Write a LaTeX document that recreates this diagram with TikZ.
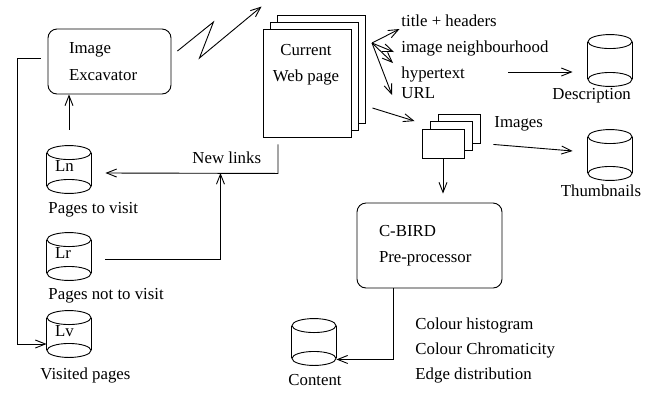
\documentclass[tikz,border=0pt]{standalone}
\usepackage{fontspec}
\setmainfont{Liberation Serif}
\usetikzlibrary{arrows.meta,calc}

% storage drum: name, centre, height, label
\newcommand{\drum}[4]{%
  \node[drumnode, minimum height=#3] (#1) at (#2) {};
  \draw ([yshift=-7pt]#1.north west) -- ([yshift=7pt]#1.south west)
        ([yshift=-7pt]#1.north east) -- ([yshift=7pt]#1.south east);
  \draw ([yshift=-7pt]#1.north) ellipse [x radius=22pt, y radius=7pt];
  \draw ([yshift=7pt]#1.south) ellipse [x radius=22pt, y radius=7pt];
  \node[txt] (#1-lbl) at ([xshift=8pt]#1.west) {#4};%
}

\begin{document}
\begin{tikzpicture}[x=1pt, y=-1pt, line width=0.9pt,
  font=\fontsize{16.8}{26}\selectfont,
  txt/.style={inner sep=0pt, anchor=west, text height=0.68em, text depth=0.2em},
  ctxt/.style={inner sep=0pt, text height=0.68em, text depth=0.2em},
  proc/.style={draw, rounded corners=9pt, inner sep=0pt, align=left},
  sheet/.style={draw, fill=white, minimum width=88pt, minimum height=108pt, inner sep=0pt},
  thumbsheet/.style={draw, fill=white, minimum width=42pt, minimum height=29pt, inner sep=0pt},
  drumnode/.style={minimum width=44pt, inner sep=0pt},
  arr/.style={-{Straight Barb[length=10pt,width=8pt]}}]

\useasboundingbox (0,0) rectangle (650,392);

% crawler
\node[proc, minimum width=123pt, minimum height=65pt, text width=81pt] (exc) at (109.5,61.5) {Image\\[1pt]Excavator};

% fetched page (stack of sheets)
\node[sheet] (web3) at (321,69) {};
\node[sheet] (web2) at (314,76) {};
\node[sheet] (web)  at (307,83) {};
\node[align=center, inner sep=0pt] (webtext) at (306,65) {Current\\Web page};

% extracted images (stack)
\node[thumbsheet] (img3) at (459,128.5) {};
\node[thumbsheet] (img2) at (451,136) {};
\node[thumbsheet] (img)  at (443,143.5) {};

% pre-processor
\node[proc, minimum width=145pt, minimum height=85pt, text width=101pt] (cbird) at (429.5,245.5) {C-BIRD\\Pre-processor};

% stores
\drum{ln}{69,169.5}{47pt}{Ln}
\drum{lr}{69,256.5}{47pt}{Lr}
\drum{lv}{69,334}{46pt}{Lv}
\drum{desc}{610,60.5}{51pt}{}
\drum{thumb}{610,155}{50pt}{}
\drum{content}{314,342}{46pt}{}

% labels
\node[txt] (ptv)  at (48,211) {Pages to visit};
\node[txt] (pntv) at (48,297) {Pages not to visit};
\node[txt] (vp)   at (40,377) {Visited pages};
\node[txt] (newlinks) at (192,161) {New links};
\node[txt] (title) at (401,24) {title + headers};
\node[txt] (hood)  at (401,50) {image neighbourhood};
\node[txt] (hyper) at (401,76) {hypertext};
\node[txt] (url)   at (401,96) {URL};
\node[txt] (desclbl) at (552,97) {Description};
\node[txt] (imglbl)  at (494,125) {Images};
\node[ctxt] (thumblbl) at (601,194) {Thumbnails};
\node[ctxt] (contentlbl) at (315,383) {Content};
\node[txt] (feat1) at (415,327) {Colour histogram};
\node[txt] (feat2) at (415,352) {Colour Chromaticity};
\node[txt] (feat3) at (415,377) {Edge distribution};

% connectors
\draw[arr] ([yshift=16pt]ln.north) -- (ln.north |- exc.south);
\draw[arr] ([shift={(-7pt,3.5pt)}]exc.west) -- ++(-23,0) |- ([yshift=-10pt]lv.west);
\draw[arr] ([shift={(6pt,10.5pt)}]exc.east) -- ++(36,-29) -- ++(-14,36)
  -- ([shift={(-15pt,8pt)}]web3.north west);
\draw[arr] ([shift={(-29pt,-7pt)}]web.south) -- ++(0,29)
  -- ([shift={(14pt,-3.5pt)}]ln.east);
\draw[arr] ([shift={(14pt,-2.5pt)}]lr.east) -- ++(115,0) -- ++(0,-86);

\coordinate (fan) at (372,43);
\draw[arr] (fan) -- ([shift={(-1.5pt,-5pt)}]title.west);
\draw[arr] (fan) -- ([shift={(-7pt,-2pt)}]hood.west);
\draw[arr] (fan) -- ([shift={(-8pt,13pt)}]hyper.west);
\draw[arr] (fan) -- ([shift={(-9pt,1pt)}]url.west);

\coordinate (descfrom) at (508,72);
\draw[arr, shorten >=15pt] (descfrom) -- (descfrom -| desc.west);

\draw[arr] ([shift={(21pt,-25pt)}]web.east) -- ([xshift=-15pt]img2.north west);
\draw[arr] ([shift={(13pt,-1pt)}]img3.south east) -- ([shift={(-15pt,4pt)}]thumb.west);
\draw[arr, shorten >=9pt] (img.south) -- (img.south |- cbird.north);
\draw[arr] ([xshift=-36.5pt]cbird.south) |- ([yshift=6pt]content.south east);
\end{tikzpicture}
\end{document}
